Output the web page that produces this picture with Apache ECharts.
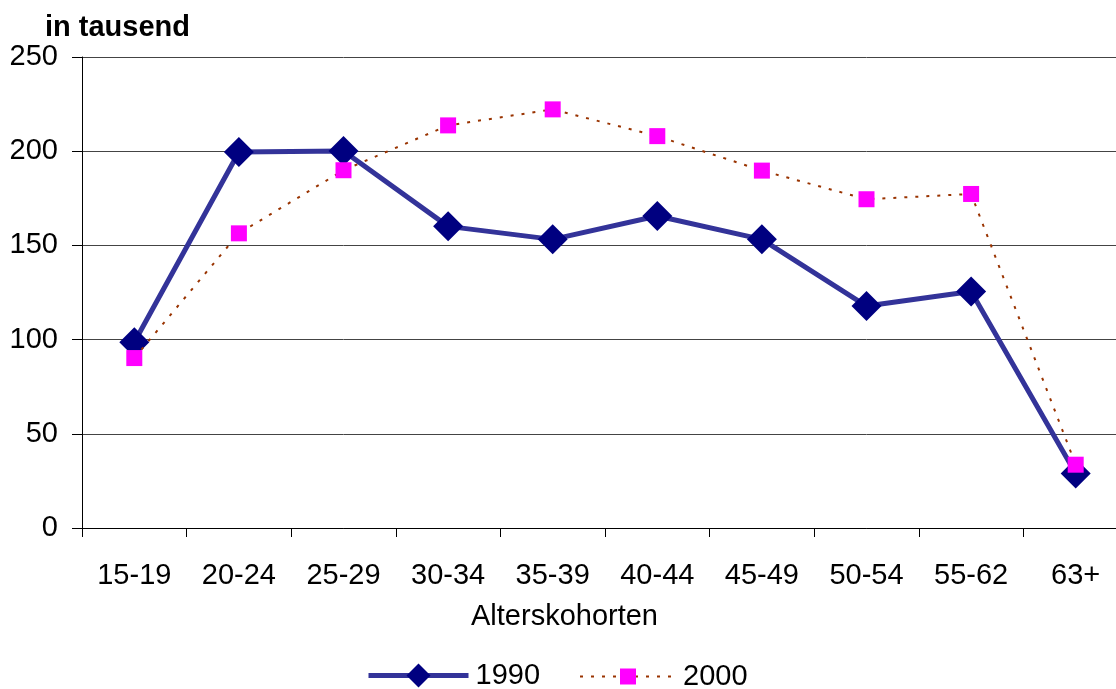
<!DOCTYPE html>
<html>
<head>
<meta charset="utf-8">
<script src="https://cdn.jsdelivr.net/npm/echarts@6/dist/echarts.min.js"></script>
<style>
  html, body { margin: 0; padding: 0; background: #fff; overflow: hidden; }
  #chart { width: 1128px; height: 689px; }
</style>
</head>
<body>
<div id="chart"></div>
<script>
// Age cohorts and counts (in thousands)
const categories = ['15-19', '20-24', '25-29', '30-34', '35-39', '40-44', '45-49', '50-54', '55-62', '63+'];
const values1990 = [98.6, 199.6, 200.1, 160.1, 153.2, 165.6, 153.2, 117.8, 125.5, 28.9];
const values2000 = [90.2, 156.4, 189.9, 213.7, 222.2, 208.0, 189.7, 174.5, 177.3, 33.6];
const yTicks = { min: 0, max: 250, interval: 50 };

const font = 'Liberation Sans, Arial, sans-serif';
const chart = echarts.init(document.getElementById('chart'), null, { renderer: 'canvas' });

const legendText = { fontSize: 29, color: '#000', fontFamily: font, padding: [0, 0, 0, 2] };

chart.setOption({
  animation: false,
  backgroundColor: '#ffffff',
  textStyle: { fontFamily: font },
  graphic: [
    {
      type: 'text', left: 45, top: 13,
      style: { text: 'in tausend', font: 'bold 29px ' + font, fill: '#000' }
    },
    {
      type: 'text', left: 471, top: 602,
      style: { text: 'Alterskohorten', font: '29px ' + font, fill: '#000' }
    }
  ],
  // one legend per series so each marker keeps its own size
  legend: [
    {
      left: 366, top: 661, padding: 0,
      itemWidth: 100, itemHeight: 30,
      lineStyle: { width: 5 },
      textStyle: legendText,
      data: ['1990']
    },
    {
      left: 579, top: 662, padding: 0,
      itemWidth: 96, itemHeight: 20,
      lineStyle: { width: 2 },
      textStyle: legendText,
      data: ['2000']
    }
  ],
  grid: { left: 82, right: 0, top: 57, bottom: 161 },
  xAxis: {
    type: 'category',
    data: categories,
    boundaryGap: true,
    axisLine: { lineStyle: { color: '#000', width: 1 } },
    axisTick: { show: true, length: 9, lineStyle: { color: '#000' } },
    axisLabel: { fontSize: 29, color: '#000', margin: 33, fontFamily: font }
  },
  yAxis: {
    type: 'value',
    min: yTicks.min, max: yTicks.max, interval: yTicks.interval,
    axisLine: { show: true, lineStyle: { color: '#000', width: 1 } },
    axisTick: { show: true, length: 10, lineStyle: { color: '#000' } },
    axisLabel: { fontSize: 29, color: '#000', margin: 24, fontFamily: font },
    splitLine: { show: true, lineStyle: { color: '#444', width: 1 } }
  },
  series: [
    {
      name: '1990',
      type: 'line',
      data: values1990,
      symbol: 'diamond',
      symbolSize: 30,
      itemStyle: { color: '#000080' },
      lineStyle: { color: '#333399', width: 5 },
      z: 3
    },
    {
      name: '2000',
      type: 'line',
      data: values2000,
      symbol: 'rect',
      symbolSize: 16,
      itemStyle: { color: '#ff00ff' },
      lineStyle: { color: '#993300', width: 2, type: [3, 8] },
      z: 4
    }
  ]
});
</script>
</body>
</html>
